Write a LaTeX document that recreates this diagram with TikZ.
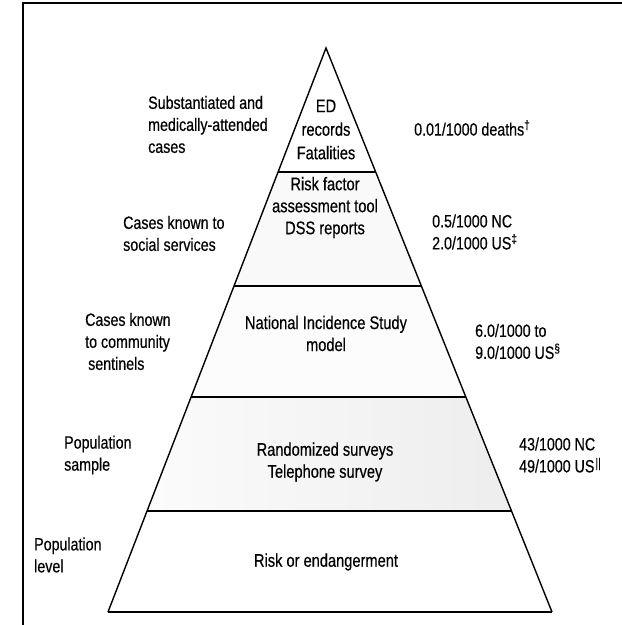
\documentclass[tikz,border=0pt]{standalone}
\usepackage{fontspec}
\setmainfont[FakeStretch=0.80,FakeBold=0.4]{Liberation Sans}
\usetikzlibrary{calc}
\tikzset{
  lbl/.style={font=\fontsize{17.8}{22}\selectfont, inner sep=0pt, align=left, anchor=west},
  ctr/.style={font=\fontsize{18.3}{22}\selectfont, inner sep=0pt, align=center},
  side/.style={line width=1.4pt, line join=miter},
  sep/.style={line width=2pt},
  frame/.style={line width=2.6pt}
}
\begin{document}
\begin{tikzpicture}[x=1pt,y=-1pt]
\useasboundingbox (0,0) rectangle (622,625);
% frame
\coordinate (F1) at (622,3);
\coordinate (F2) at (23,3);
\coordinate (F3) at (23,625);
\draw[frame] (F1) -- (F2) -- (F3);
% pyramid geometry
\coordinate (A) at (326,48);
\coordinate (BL) at (108,612);
\coordinate (BR) at (552,612);
\coordinate (L1) at ($(A)!0.2199!(BL)$); \coordinate (R1) at ($(A)!0.2199!(BR)$);
\coordinate (L2) at ($(A)!0.4220!(BL)$); \coordinate (R2) at ($(A)!0.4220!(BR)$);
\coordinate (L3) at ($(A)!0.6188!(BL)$); \coordinate (R3) at ($(A)!0.6188!(BR)$);
\coordinate (L4) at ($(A)!0.8209!(BL)$); \coordinate (R4) at ($(A)!0.8209!(BR)$);
% light stippled fills
\fill[gray!5] (L1) -- (R1) -- (R2) -- (L2) -- cycle;
\fill[gray!2] (L2) -- (R2) -- (R3) -- (L3) -- cycle;
\shade[left color=gray!3, right color=gray!14] (L3) -- (R3) -- (R4) -- (L4) -- cycle;
% outline
\draw[side] (BL) -- (A) -- (BR);
\draw[sep] (L1) -- (R1);
\draw[sep] (L2) -- (R2);
\draw[sep] (L3) -- (R3);
\draw[sep] (L4) -- (R4);
\draw[sep] (BL) -- (BR);
% left labels
\node[lbl] (l1) at (148,124.5) {Substantiated and\\medically-attended\\cases};
\node[lbl] (l2) at (123,233.5) {Cases known to\\social services};
\node[lbl] (l3) at (85,341.5) {Cases known\\to community\\\hspace{3pt}sentinels};
\node[lbl] (l4) at (64,455) {Population\\sample};
\node[lbl] (l5) at (34,555) {Population\\level};
% inner labels
\node[ctr, font=\fontsize{18.3}{23.5}\selectfont] (c1) at (326,129.5) {ED\\records\\Fatalities};
\node[ctr] (c2) at (325,207.5) {Risk factor\\assessment tool\\DSS reports};
\node[ctr] (c3) at (326,333.5) {National Incidence Study\\model};
\node[ctr] (c4) at (325,462) {Randomized surveys\\Telephone survey};
\node[ctr] (c5) at (326,562) {Risk or endangerment};
% right labels
\node[lbl] (r1) at (414,128) {0.01/1000 deaths\textsuperscript{†}};
\node[lbl] (r2) at (432,232) {0.5/1000 NC\\2.0/1000 US\textsuperscript{‡}};
\node[lbl] (r3) at (475,341.5) {6.0/1000 to\\9.0/1000 US\textsuperscript{§}};
\node[lbl] (r4) at (519,455) {43/1000 NC\\49/1000 US\raisebox{5pt}{\fontsize{13}{13}\selectfont\kern1pt||}};
\end{tikzpicture}
\end{document}
